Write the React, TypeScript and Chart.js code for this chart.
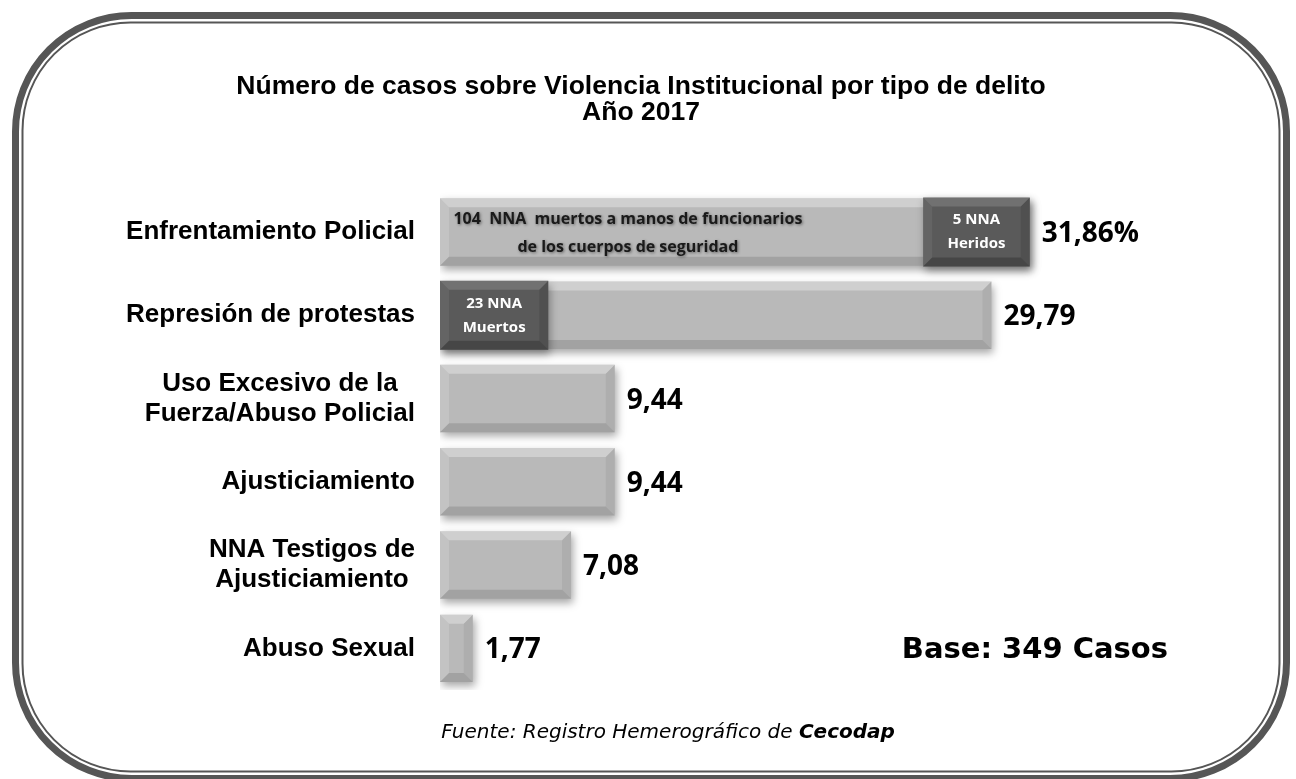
import React, { useEffect, useRef } from "react";
import { Chart, registerables } from "chart.js";

Chart.register(...registerables);

const titleLines = [
  "Número de casos sobre Violencia Institucional por tipo de delito",
  "Año 2017",
];
const categories: (string | string[])[] = [
  "Enfrentamiento Policial",
  "Represión de protestas",
  ["Uso Excesivo de la", "Fuerza/Abuso Policial"],
  "Ajusticiamiento",
  ["NNA Testigos de", "Ajusticiamiento"],
  "Abuso Sexual",
];
const percentages = [31.86, 29.79, 9.44, 9.44, 7.08, 1.77];
const valueLabels = ["31,86%", "29,79", "9,44", "9,44", "7,08", "1,77"];
const detailRanges: ([number, number] | null)[] = [[26.1, 31.86], [0, 5.85], null, null, null, null];
const detailLabels: (string[] | null)[] = [["5 NNA", "Heridos"], ["23 NNA", "Muertos"], null, null, null, null];
const noteIndex = 0;
const noteValue = 10.15;
const noteLines = ["104  NNA  muertos a manos de funcionarios", "de los cuerpos de seguridad"];
const baseText = "Base: 349 Casos";
const footerNormal = "Fuente: Registro Hemerográfico de ";
const footerBold = "Cecodap";
const axisMax = 45;

const LABEL_FONT = "bold 26px 'Liberation Sans', Arial";
const LABEL_LINE = 30;
const LABEL_RIGHT_GAP = 25;

function poly(ctx: CanvasRenderingContext2D, pts: number[][]) {
  ctx.beginPath();
  ctx.moveTo(pts[0][0], pts[0][1]);
  for (let i = 1; i < pts.length; i++) ctx.lineTo(pts[i][0], pts[i][1]);
  ctx.closePath();
  ctx.fill();
}

function bevel(ctx: CanvasRenderingContext2D, l: number, t: number, r: number, b: number, size: number, light: number, dark: number) {
  const s = Math.max(0, Math.min(size, (r - l) / 2, (b - t) / 2));
  ctx.fillStyle = `rgba(255,255,255,${light})`;
  poly(ctx, [[l, t], [r, t], [r - s, t + s], [l + s, t + s]]);
  ctx.fillStyle = `rgba(255,255,255,${light * 0.45})`;
  poly(ctx, [[l, t], [l + s, t + s], [l + s, b - s], [l, b]]);
  ctx.fillStyle = `rgba(0,0,0,${dark * 0.5})`;
  poly(ctx, [[r, t], [r, b], [r - s, b - s], [r - s, t + s]]);
  ctx.fillStyle = `rgba(0,0,0,${dark})`;
  poly(ctx, [[l, b], [r, b], [r - s, b - s], [l + s, b - s]]);
}

function noShadow(ctx: CanvasRenderingContext2D) {
  ctx.shadowColor = "rgba(0,0,0,0)";
  ctx.shadowBlur = 0;
  ctx.shadowOffsetX = 0;
  ctx.shadowOffsetY = 0;
}

const decorPlugin = {
  id: "decor",
  beforeDraw(chart: any) {
    const ctx: CanvasRenderingContext2D = chart.ctx;
    ctx.save();
    ctx.fillStyle = "#ffffff";
    ctx.fillRect(0, 0, chart.width, chart.height);
    ctx.strokeStyle = "#565656";
    ctx.lineWidth = 7;
    ctx.beginPath();
    (ctx as any).roundRect(15.5, 15.5, 1271, 763, 116);
    ctx.stroke();
    ctx.lineWidth = 2;
    ctx.beginPath();
    (ctx as any).roundRect(22.5, 22.5, 1257, 749, 108);
    ctx.stroke();
    ctx.restore();
  },
  beforeDatasetsDraw(chart: any) {
    const ctx: CanvasRenderingContext2D = chart.ctx;
    ctx.save();
    ctx.shadowColor = "rgba(0,0,0,0.35)";
    ctx.shadowBlur = 8;
    ctx.shadowOffsetX = 2;
    ctx.shadowOffsetY = 4;
  },
  afterDatasetDraw(chart: any, args: any) {
    const ctx: CanvasRenderingContext2D = chart.ctx;
    const isDark = args.meta.index === 1;
    ctx.save();
    noShadow(ctx);
    args.meta.data.forEach((el: any, i: number) => {
      const raw = chart.data.datasets[args.meta.index].data[i];
      if (raw === null || raw === undefined) return;
      const p = el.getProps(["x", "y", "base", "height"], true);
      const l = Math.min(p.x, p.base);
      const r = Math.max(p.x, p.base);
      const t = p.y - p.height / 2;
      const b = p.y + p.height / 2;
      if (isDark) bevel(ctx, l, t, r, b, 9, 0.14, 0.22);
      else bevel(ctx, l, t, r, b, 9, 0.32, 0.12);
    });
    ctx.restore();
  },
  afterDatasetsDraw(chart: any) {
    const ctx: CanvasRenderingContext2D = chart.ctx;
    ctx.restore();
    const main = chart.getDatasetMeta(0);
    const dark = chart.getDatasetMeta(1);
    const xs = chart.scales.x;
    const ys = chart.scales.y;
    ctx.save();
    noShadow(ctx);
    // category labels: block right-aligned to axis, lines centred within block
    ctx.fillStyle = "#000";
    ctx.textBaseline = "middle";
    ctx.textAlign = "center";
    ctx.font = LABEL_FONT;
    categories.forEach((lab, i) => {
      const lines = Array.isArray(lab) ? lab : [lab];
      const w = Math.max(...lines.map((ln) => ctx.measureText(ln).width));
      const right = ys.right - LABEL_RIGHT_GAP;
      const cx = right - w / 2;
      const cy = ys.getPixelForTick(i);
      lines.forEach((ln, k) => {
        ctx.fillText(ln, cx, cy + (k - (lines.length - 1) / 2) * LABEL_LINE);
      });
    });
    // value labels
    ctx.textAlign = "left";
    ctx.font = "bold 28px 'Open Sans'";
    main.data.forEach((el: any, i: number) => {
      const p = el.getProps(["x", "y"], true);
      ctx.fillText(valueLabels[i], p.x + 12, p.y + 2);
    });
    // dark box labels
    ctx.fillStyle = "#fff";
    ctx.textAlign = "center";
    ctx.font = "bold 15px 'Open Sans'";
    dark.data.forEach((el: any, i: number) => {
      const lines = detailLabels[i];
      if (!lines || !detailRanges[i]) return;
      const p = el.getProps(["x", "y", "base"], true);
      const cx = (p.x + p.base) / 2;
      lines.forEach((ln, k) => {
        ctx.fillText(ln, cx, p.y + (k - (lines.length - 1) / 2) * 24);
      });
    });
    // inside note
    const ne = main.data[noteIndex].getProps(["y"], true);
    const nx = xs.getPixelForValue(noteValue);
    ctx.fillStyle = "#1a1a1a";
    ctx.font = "bold 16px 'Open Sans'";
    ctx.shadowColor = "rgba(0,0,0,0.45)";
    ctx.shadowBlur = 3;
    ctx.shadowOffsetX = 1;
    ctx.shadowOffsetY = 1;
    noteLines.forEach((ln, k) => {
      ctx.fillText(ln, nx, ne.y + 1 + (k - (noteLines.length - 1) / 2) * 28);
    });
    noShadow(ctx);
    // base text
    ctx.fillStyle = "#000";
    ctx.textAlign = "right";
    ctx.font = "bold 29px 'DejaVu Sans'";
    ctx.fillText(baseText, 1168, 650);
    // footer
    ctx.textAlign = "left";
    ctx.font = "oblique 20px 'DejaVu Sans'";
    const w1 = ctx.measureText(footerNormal).width;
    ctx.font = "oblique bold 20px 'DejaVu Sans'";
    const w2 = ctx.measureText(footerBold).width;
    const start = 668 - (w1 + w2) / 2;
    ctx.font = "oblique 20px 'DejaVu Sans'";
    ctx.fillText(footerNormal, start, 733);
    ctx.font = "oblique bold 20px 'DejaVu Sans'";
    ctx.fillText(footerBold, start + w1, 733);
    ctx.restore();
  },
};

export default function App() {
  const ref = useRef<HTMLCanvasElement | null>(null);
  useEffect(() => {
    document.body.style.margin = "0";
    const canvas = ref.current;
    if (!canvas) return;
    const chart = new Chart(canvas, {
      type: "bar",
      data: {
        labels: categories as any,
        datasets: [
          {
            data: percentages,
            backgroundColor: "#b9b9b9",
            borderWidth: 0,
            order: 1,
            grouped: false,
            categoryPercentage: 1,
            barPercentage: 0.81,
          } as any,
          {
            data: detailRanges as any,
            backgroundColor: "#5a5a5a",
            borderWidth: 0,
            order: 0,
            grouped: false,
            categoryPercentage: 1,
            barPercentage: 0.83,
          } as any,
        ],
      },
      options: {
        indexAxis: "y",
        responsive: false,
        animation: false,
        layout: { padding: { left: 9, right: 23, top: 74, bottom: 89 } },
        plugins: {
          legend: { display: false },
          tooltip: { enabled: false },
          title: {
            display: true,
            text: titleLines,
            color: "#000",
            font: { family: "'Liberation Sans', Arial", size: 26.5, weight: "bold", lineHeight: 0.98 },
            padding: { top: 0, bottom: 64.4 },
          },
        },
        scales: {
          x: { display: false, min: 0, max: axisMax },
          y: {
            grid: { display: false, drawTicks: false },
            border: { display: false },
            ticks: { display: false },
            afterFit(s: any) {
              s.width = 431;
            },
          },
        },
      } as any,
      plugins: [decorPlugin],
    });
    return () => chart.destroy();
  }, []);
  return (
    <div style={{ width: 1296, height: 779 }}>
      <canvas ref={ref} width={1296} height={779} style={{ display: "block" }} />
    </div>
  );
}
